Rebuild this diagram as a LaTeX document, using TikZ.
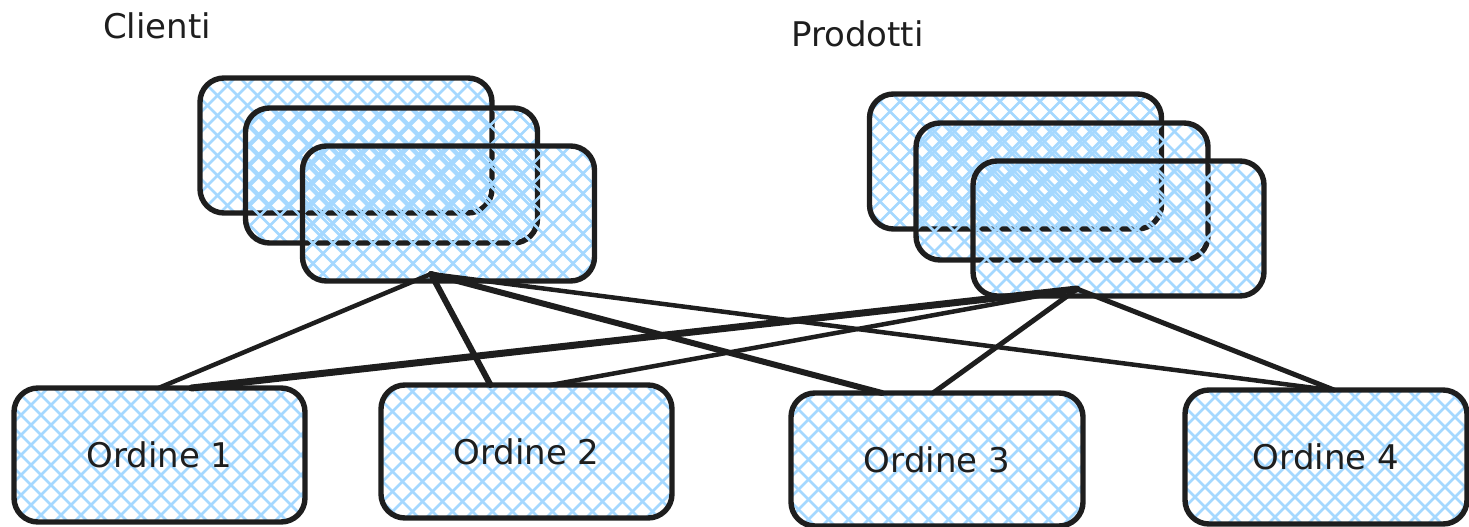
\documentclass[tikz,border=0pt]{standalone}
\usepackage{fontspec}
\setmainfont{DejaVu Sans}
\definecolor{ink}{HTML}{1E1E1E}
\definecolor{hatch}{HTML}{A5D8FF}
\tikzset{
  card/.style={draw=ink, line width=5.4pt, rounded corners=24pt,
    minimum width=292pt, minimum height=135pt, inner sep=0pt, outer sep=0pt,
    font=\fontsize{34}{40}\selectfont, text=ink},
  % cross-hatched fill: two families of diagonal strokes, clipped to the card
  hatched/.style={path picture={
    \foreach \k in {-8,...,16}{
      \draw[draw=hatch, line width=2.7pt]
        ([xshift=\k*20pt+#1]path picture bounding box.south west) -- ++(200pt,200pt);
      \draw[draw=hatch, line width=2.7pt]
        ([xshift=\k*20pt+#1]path picture bounding box.north west) -- ++(200pt,-200pt);
    }}},
  title/.style={font=\fontsize{34}{40}\selectfont, text=ink, inner sep=0pt, anchor=base west},
  wire/.style={draw=ink, line width=#1, line cap=round}
}
\begin{document}
\begin{tikzpicture}[x=1pt,y=-1pt]
\useasboundingbox (0,0) rectangle (1469,527);

% customers: a stack of three cards
\node[card, hatched=0pt] (ca) at (346,145.5) {};
\node[card, hatched=7pt] (cb) at (391.5,175.5) {};
\node[card, hatched=13pt] (cc) at (448.5,213.5) {};
\node[title] (clienti) at (103,38) {Clienti};

% products: a stack of three cards
\node[card, hatched=3pt] (pa) at (1015.5,161.5) {};
\node[card, hatched=10pt, minimum height=137pt] (pb) at (1062,191.5) {};
\node[card, hatched=16pt, minimum width=291pt] (pc) at (1118.5,228.5) {};
\node[title] (prodotti) at (791,47) {Prodotti};

% orders
\node[card, hatched=0pt, minimum width=291pt, minimum height=134pt] (o1) at (159.5,455) {Ordine 1};
\node[card, hatched=5pt, minimum width=291pt, minimum height=133pt] (o2) at (526.5,451.5) {Ordine 2};
\node[card, hatched=11pt, minimum height=133pt] (o3) at (937,459.5) {Ordine 3};
\node[card, hatched=3pt, minimum width=282pt, minimum height=134pt] (o4) at (1326,457) {Ordine 4};

% points where the links leave the front cards
\coordinate (chub) at (431,274);
\coordinate (phub) at (1077,289);

% links from customers
\draw[wire=4.5pt] (chub) -- ([xshift=-1pt]o1.north);
\draw[wire=6pt]   (chub) -- ([xshift=-36pt]o2.north);
\draw[wire=6pt]   (chub) -- ([xshift=-55pt]o3.north);
\draw[wire=4.5pt] (chub) -- ([xshift=4pt]o4.north);

% links from products
\draw[wire=7pt]   (phub) -- ([xshift=32pt]o1.north);
\draw[wire=4.5pt] (phub) -- ([xshift=24pt]o2.north);
\draw[wire=5pt]   (phub) -- ([xshift=-4pt]o3.north);
\draw[wire=5pt]   (phub) -- ([xshift=8pt]o4.north);
\end{tikzpicture}
\end{document}
